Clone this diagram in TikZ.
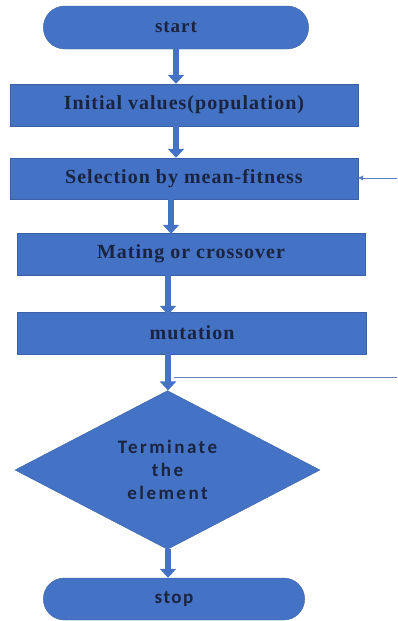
\documentclass[tikz,border=0pt]{standalone}
\usepackage{fontspec}
\setmainfont{Liberation Serif}
\newfontfamily\boxfont[LetterSpace=5]{Liberation Serif}
\newfontfamily\diafont[LetterSpace=13]{Carlito}
\newfontfamily\stopfont[LetterSpace=8]{Carlito}
\usetikzlibrary{shapes.misc,shapes.geometric,arrows.meta}
\definecolor{boxblue}{HTML}{4472C4}
\definecolor{txtnavy}{HTML}{1A2440}
\definecolor{linkblue}{HTML}{5A80C6}
\tikzset{
  proc/.style={rectangle, fill=boxblue, draw=boxblue!85!black, line width=0.4pt, minimum height=42pt, text=txtnavy, font=\boxfont\fontsize{20}{22}\selectfont\bfseries},
  term/.style={rounded rectangle, fill=boxblue, draw=boxblue!85!black, line width=0.4pt, minimum height=43pt, text=txtnavy, font=\boxfont\fontsize{19}{22}\selectfont\bfseries},
  decide/.style={diamond, fill=boxblue, draw=boxblue!85!black, line width=0.4pt, inner sep=0pt, minimum width=305pt, minimum height=152pt, text=txtnavy, align=center, font=\diafont\fontsize{19}{23}\selectfont\bfseries},
  flow/.style={draw=boxblue, line width=6pt, -{Triangle[width=16pt,length=9pt]}},
  thinlink/.style={draw=linkblue, line width=0.9pt},
}
\begin{document}
\begin{tikzpicture}[x=1pt,y=-1pt]
\useasboundingbox[fill=white] (0,0) rectangle (397,621);
\node[term, minimum width=272pt] (start) at (176,27.5) {start};
\node[proc, minimum width=348pt] (init) at (184,105) {Initial values(population)};
\node[proc, minimum width=348pt, minimum height=41pt] (sel) at (184,178.5) {Selection by mean-fitness};
\node[proc, minimum width=348pt] (mate) at (191,254) {Mating or crossover};
\node[proc, minimum width=349pt] (mut) at (192,333) {mutation};
\node[decide] (term) at (167.5,470) {Terminate\\the\\element};
\node[term, minimum width=268pt, minimum height=42pt, font=\stopfont\fontsize{19}{22}\selectfont\bfseries] (stop) at (174,599) {stop};
\coordinate (c1) at (176,0);
\coordinate (c2) at (171,0);
\coordinate (c3) at (168,0);
\coordinate (fbin) at (397,178);
\coordinate (fbout) at (397,377);
\coordinate (fbstart) at (174,377);
\draw[flow] (start.south -| c1) -- (init.north -| c1);
\draw[flow] ([yshift=2pt]init.south -| c1) -- (sel.north -| c1);
\draw[flow] ([yshift=1pt]sel.south -| c2) -- ([yshift=-1pt]mate.north -| c2);
\draw[flow] ([yshift=2pt]mate.south -| c3) -- ([yshift=-3pt]mut.north -| c3);
\draw[flow] ([yshift=3pt]mut.south -| c3) -- (term.north -| c3);
\draw[flow] ([yshift=1pt]term.south -| c3) -- (stop.north -| c3);
\draw[thinlink, -{Triangle[width=5pt,length=5pt]}] (fbin) -- (fbin -| sel.east);
\draw[thinlink, draw=linkblue!70!gray] (fbstart) -- (fbout);
\end{tikzpicture}
\end{document}
